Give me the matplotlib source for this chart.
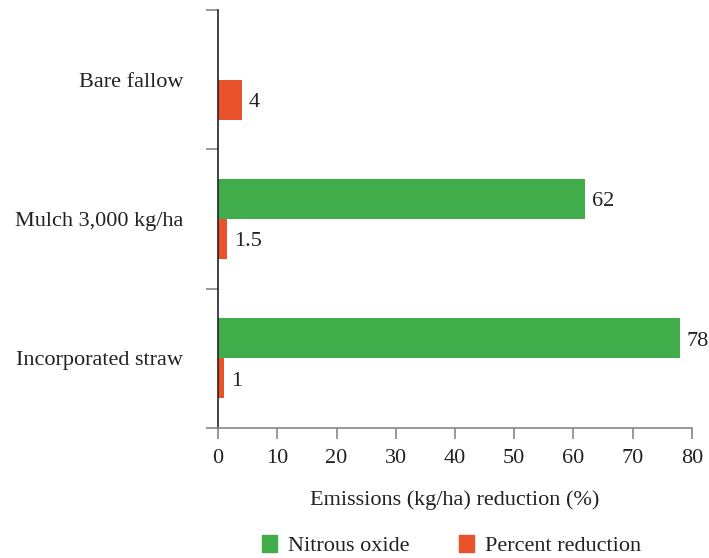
import matplotlib
matplotlib.use("Agg")
import matplotlib.pyplot as plt
from matplotlib.patches import Patch
import numpy as np

plt.rcParams['font.family'] = ['Liberation Serif', 'DejaVu Serif']

categories = ["Bare fallow", "Mulch 3,000 kg/ha", "Incorporated straw"]
nitrous_oxide = [0, 62, 78]
percent_reduction = [4, 1.5, 1]
nitrous_labels = [None, "62", "78"]
reduction_labels = ["4", "1.5", "1"]
x_ticks = [0, 10, 20, 30, 40, 50, 60, 70, 80]

GREEN = "#41ad4a"
RED = "#e9532b"
TEXT = "#222222"
GRAY = "#888888"
FS = 16

fig = plt.figure(figsize=(7.09, 5.58), dpi=100)
ax = fig.add_axes([0.3075, 0.233, 0.6685, 0.749])

y = np.arange(len(categories))
h = 0.288
ax.barh(y - h / 2, nitrous_oxide, height=h, color=GREEN)
ax.barh(y + h / 2, percent_reduction, height=h, color=RED)

for yi, v, lab in zip(y, nitrous_oxide, nitrous_labels):
    if lab:
        ax.annotate(lab, (v, yi - h / 2), xytext=(4.5, -2), textcoords="offset points",
                    va="center", ha="left", fontsize=FS, color=TEXT)
for yi, v, lab in zip(y, percent_reduction, reduction_labels):
    ax.annotate(lab, (v, yi + h / 2), xytext=(5, -2), textcoords="offset points",
                va="center", ha="left", fontsize=FS, color=TEXT)

ax.set_xlim(0, 80)
ax.set_ylim(2.5, -0.5)
ax.set_xticks(x_ticks)
ax.set_xticklabels([str(t) for t in x_ticks])
ax.tick_params(axis="x", length=8, width=1.2, color=GRAY, labelsize=FS,
               labelcolor=TEXT, pad=7)

ax.set_yticks(y)
ax.set_yticklabels(categories)
ax.tick_params(axis="y", which="major", length=0, labelsize=FS, labelcolor=TEXT, pad=25)
ax.set_yticks(np.arange(-0.5, len(categories), 1.0), minor=True)
ax.tick_params(axis="y", which="minor", length=9, width=1.2, color=GRAY)

for side in ("top", "right"):
    ax.spines[side].set_visible(False)
ax.spines["left"].set_color("#222222")
ax.spines["left"].set_linewidth(1.2)
ax.spines["bottom"].set_color(GRAY)
ax.spines["bottom"].set_linewidth(1.2)

ax.set_xlabel("Emissions (kg/ha) reduction (%)", fontsize=FS, color=TEXT, labelpad=16)

handles = [Patch(color=GREEN, label="Nitrous oxide"),
           Patch(color=RED, label="Percent reduction")]
fig.legend(handles=handles, loc="center", bbox_to_anchor=(0.637, 0.022), ncol=2,
           frameon=False, fontsize=FS, handlelength=0.7, handleheight=0.75,
           columnspacing=2.2, handletextpad=0.5, labelcolor=TEXT)

fig.savefig("out.png", dpi=100)
